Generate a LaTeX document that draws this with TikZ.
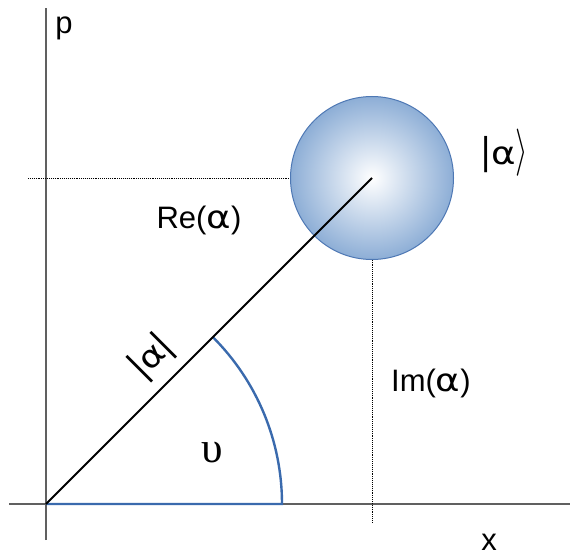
\documentclass[tikz,border=0pt]{standalone}
\usepackage{amsmath}
\usepackage{fontspec}
\setmainfont{Liberation Sans}
\newfontfamily\grserif{Liberation Serif}
\newfontfamily\grsans{DejaVu Sans}
\usetikzlibrary{positioning}

\definecolor{axisgray}{HTML}{606060}
\definecolor{arcblue}{HTML}{3A6AAD}
\definecolor{ballblue}{HTML}{8DAED6}
\definecolor{rimblue}{HTML}{4E78B4}

\tikzset{
    axis/.style={draw=axisgray, line width=1.2pt},
    guide/.style={black, densely dotted, line width=0.9pt},
    lbl/.style={font=\fontsize{31}{37}\selectfont, inner sep=0pt}
}
\newcommand{\alp}{{\grsans\scalebox{1.2}[1.02]{α}}}
\newcommand{\vbar}{\scalebox{1.15}[1.25]{|}}

\begin{document}
\begin{tikzpicture}[x=1pt, y=1pt]
    \useasboundingbox (0,0) rectangle (570,558);

    % Points
    \coordinate (O) at (46,54);
    \coordinate (C) at (372,380);
    \coordinate (xl) at (9,54);
    \coordinate (xr) at (570,54);
    \coordinate (yb) at (46,18);
    \coordinate (yt) at (46,550);
    \coordinate (hl) at (28,380);
    \coordinate (vb) at (372,36);
    \coordinate (A) at (282,54);

    % Axes
    \draw[axis] (xl) -- (xr);
    \draw[axis] (yb) -- (yt);

    % Dotted guides
    \draw[guide] (hl) -- (C);
    \draw[guide] (C) -- (vb);

    % Coherent state
    \shade[inner color=white, outer color=ballblue] (C) circle (81.5);
    \draw[rimblue, line width=1pt] (C) circle (81.5);

    % Angle
    \draw[arcblue, line width=2.4pt] (O) -- (A) arc (0:45:236);

    % Amplitude
    \draw[black, line width=1.8pt] (O) -- (C);

    % Labels
    \node[lbl] (p) at (64,530) {p};
    \node[lbl, anchor=north] (x) at (489,24) {x};
    \node[lbl] (ket) at (505,405) {\vbar\alp\scalebox{1.3}[1.9]{$\rangle$}};
    \node[lbl] (re) at (199,338) {Re(\alp)};
    \node[lbl] (im) at (431,175) {Im(\alp)};
    \node[lbl] (ang) at (212,106) {\grserif\scalebox{1.4}{υ}};
    \node[lbl, rotate=45] (abs) at (152,201) {\vbar\alp\vbar};
\end{tikzpicture}
\end{document}
